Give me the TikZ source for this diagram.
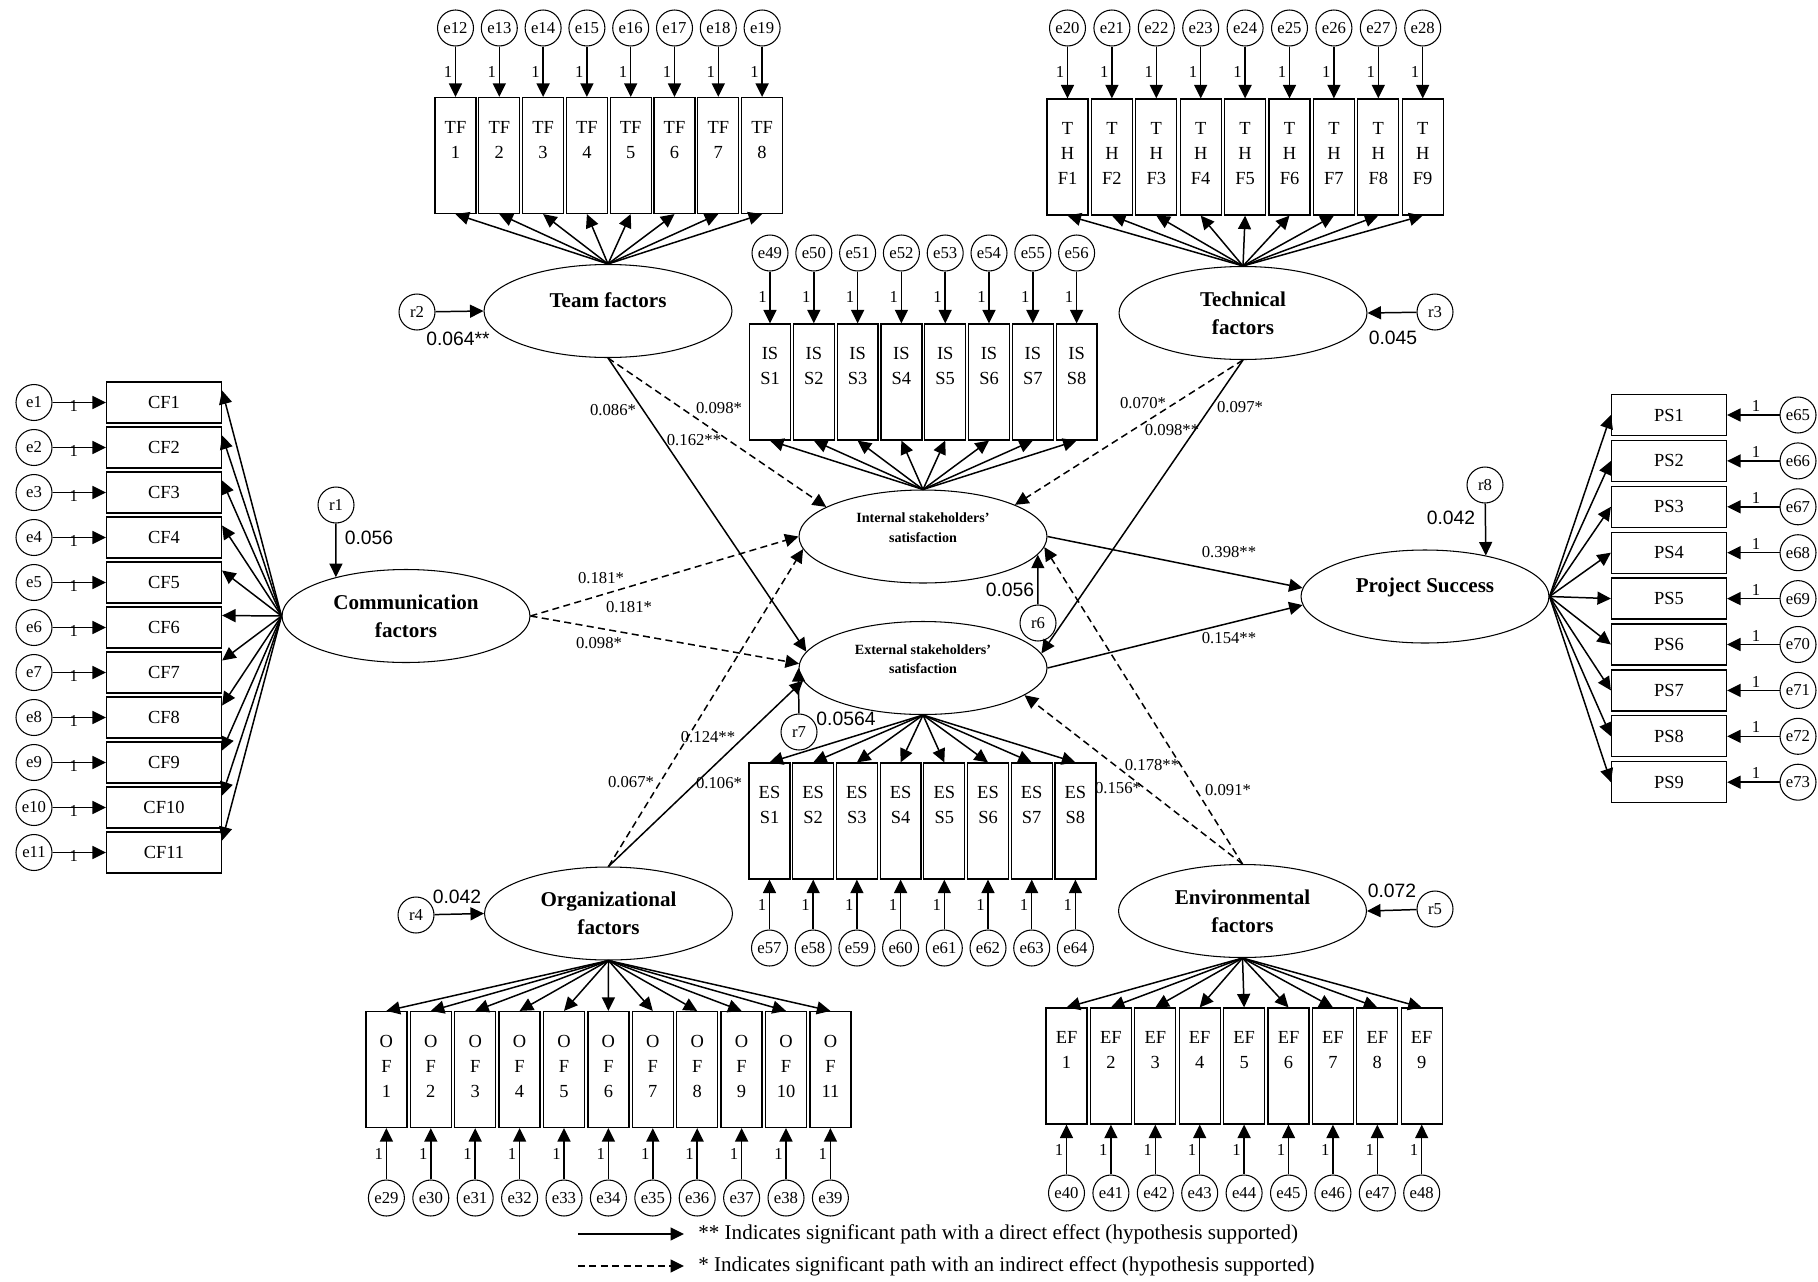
\documentclass[tikz,border=0pt]{standalone}
\usepackage{fontspec}
\setmainfont{Liberation Serif}
\newfontfamily\numfont{Liberation Sans}
\usetikzlibrary{arrows.meta,shapes.geometric}

\tikzset{
  arr/.style={-{Triangle[length=0.27cm,width=0.26cm]}},
  direct/.style={arr, line width=0.85pt},
  indirect/.style={direct, dash pattern=on 4pt off 2.5pt},
  latent/.style={draw, ellipse, line width=0.6pt, minimum width=4.96cm, minimum height=1.86cm,
    inner sep=0pt, align=center, font=\fontsize{12}{16}\selectfont\bfseries},
  vind/.style={draw, rectangle, line width=0.7pt, minimum width=0.82cm, minimum height=2.32cm, inner sep=0pt},
  hind/.style={draw, rectangle, line width=0.7pt, minimum width=2.3cm, minimum height=0.82cm,
    inner sep=0pt, font=\fontsize{10.5}{12}\selectfont},
  boxlab/.style={anchor=north, yshift=-0.48cm, align=center, inner sep=0pt, font=\fontsize{10.5}{14.2}\selectfont},
  err/.style={draw, circle, line width=0.6pt, minimum size=0.72cm, inner sep=0pt, font=\fontsize{9.5}{10}\selectfont},
  wt/.style={inner sep=1.5pt, font=\fontsize{9.5}{10}\selectfont},
  coef/.style={inner sep=0pt, font=\fontsize{9.5}{10}\selectfont},
  resid/.style={inner sep=0pt, font=\fontsize{11}{12}\numfont},
  legtxt/.style={inner sep=0pt, anchor=west, font=\fontsize{12}{14}\selectfont},
}

\begin{document}
\begin{tikzpicture}[x=0.02cm, y=-0.02cm]
\useasboundingbox (0,0) rectangle (1818,1281);

        %Latent variables
        \node[latent, text depth=0.45cm] (team) at (608,311) {Team factors};
        \node[latent] (tech) at (1243,313) {Technical\\factors};
        \node[latent] (comm) at (406,616) {Communication\\factors};
        \node[latent, font=\fontsize{8}{11}\selectfont\bfseries, text depth=0.36cm] (internal) at (923,536.5) {Internal stakeholders'\\satisfaction};
        \node[latent, font=\fontsize{8}{11}\selectfont\bfseries, text depth=0.36cm] (external) at (923,668) {External stakeholders'\\satisfaction};
        \node[latent, text depth=0.45cm] (ps) at (1425,596.5) {Project Success};
        \node[latent] (org) at (608.5,913.5) {Organizational\\factors};
        \node[latent] (env) at (1242.5,911) {Environmental\\factors};

        %Team factors items
        \foreach \i in {1,...,8} {
          \pgfmathtruncatemacro{\en}{\i+11}
          \node[vind, label={[boxlab]north:{TF\\\i}}] (tf\i) at ({455.5+43.8*(\i-1)},155.5) {};
          \node[err] (etf\i) at ({455.5+43.8*(\i-1)},28) {e\en};
          \draw[direct] (etf\i) -- node[wt, left] {1} (tf\i);
          \draw[direct] (team.north) -- (tf\i.south);
        }

        %Technical factors items
        \foreach \i in {1,...,9} {
          \pgfmathtruncatemacro{\en}{\i+19}
          \node[vind, label={[boxlab]north:{T\\H\\F\i}}] (thf\i) at ({1067.5+44.4*(\i-1)},157) {};
          \node[err] (ethf\i) at ({1067.5+44.4*(\i-1)},28) {e\en};
          \draw[direct] (ethf\i) -- node[wt, left] {1} (thf\i);
          \draw[direct] (tech.north) -- (thf\i.south);
        }

        %Internal stakeholders satisfaction items
        \foreach \i in {1,...,8} {
          \pgfmathtruncatemacro{\en}{\i+48}
          \node[vind, label={[boxlab]north:{IS\\S\i}}] (iss\i) at ({770+43.8*(\i-1)},382) {};
          \node[err] (eiss\i) at ({770+43.8*(\i-1)},253) {e\en};
          \draw[direct] (eiss\i) -- node[wt, left] {1} (iss\i);
          \draw[direct] (internal.north) -- (iss\i.south);
        }

        %External stakeholders satisfaction items
        \foreach \i in {1,...,8} {
          \pgfmathtruncatemacro{\en}{\i+56}
          \node[vind, label={[boxlab]north:{ES\\S\i}}] (ess\i) at ({769.5+43.7*(\i-1)},821) {};
          \node[err] (eess\i) at ({769.5+43.7*(\i-1)},948) {e\en};
          \draw[direct] (eess\i) -- node[wt, left] {1} (ess\i);
          \draw[direct] (external.south) -- (ess\i.north);
        }

        %Organizational factors items
        \foreach \i in {1,...,11} {
          \pgfmathtruncatemacro{\en}{\i+28}
          \node[vind, label={[boxlab]north:{O\\F\\\i}}] (of\i) at ({386.4+44.4*(\i-1)},1069.5) {};
          \node[err] (eof\i) at ({386.4+44.4*(\i-1)},1198) {e\en};
          \draw[direct] (eof\i) -- node[wt, left] {1} (of\i);
          \draw[direct] (org.south) -- (of\i.north);
        }

        %Environmental factors items
        \foreach \i in {1,...,9} {
          \pgfmathtruncatemacro{\en}{\i+39}
          \node[vind, label={[boxlab]north:{EF\\\i}}] (ef\i) at ({1066.5+44.4*(\i-1)},1066) {};
          \node[err] (eef\i) at ({1066.5+44.4*(\i-1)},1193) {e\en};
          \draw[direct] (eef\i) -- node[wt, left] {1} (ef\i);
          \draw[direct] (env.south) -- (ef\i.north);
        }

        %Communication factors items
        \foreach \i in {1,...,11} {
          \node[hind] (cf\i) at (164,{402.5+45*(\i-1)}) {CF\i};
          \node[err] (ecf\i) at (34,{402.5+45*(\i-1)}) {e\i};
          \draw[direct] (ecf\i) -- node[wt, pos=0.4, yshift=-2pt] {1} (cf\i);
          \draw[direct] (comm.west) -- ([yshift=0.24cm]cf\i.east);
        }

        %Project success items
        \foreach \i in {1,...,9} {
          \pgfmathtruncatemacro{\en}{\i+64}
          \node[hind] (psi\i) at (1669,{415+45.9*(\i-1)}) {PS\i};
          \node[err] (epsi\i) at (1798,{415+45.9*(\i-1)}) {e\en};
          \draw[direct] (epsi\i) -- node[wt, pos=0.45, above] {1} (psi\i);
          \draw[direct] (ps.east) -- (psi\i.west);
        }

        %Residuals
        \node[err] (r1) at (336,505) {r1};
        \node[err] (r2) at (417,312) {r2};
        \node[err] (r3) at (1435,312) {r3};
        \node[err] (r4) at (416,915) {r4};
        \node[err] (r5) at (1435,909) {r5};
        \node[err] (r6) at (1038,623) {r6};
        \node[err] (r7) at (799,732) {r7};
        \node[err] (r8) at (1485,485) {r8};
        \draw[direct] (r1) -- (comm.151);
        \draw[direct] (r2) -- (team.west);
        \draw[direct] (r3) -- (tech.east);
        \draw[direct] (r4) -- (org.west);
        \draw[direct] (r5) -- (env.east);
        \draw[direct] (r6) -- (internal.351);
        \draw[direct] (r7) -- (external.west);
        \draw[direct] (r8) -- (ps.34);
        \node[resid] at (369,538) {0.056};
        \node[resid] at (458,339) {0.064**};
        \node[resid] at (1393,338) {0.045};
        \node[resid] at (1010,590) {0.056};
        \node[resid] at (846,719) {0.0564};
        \node[resid] at (457,897) {0.042};
        \node[resid] at (1392,891) {0.072};
        \node[resid] at (1451,518) {0.042};

        %Structural paths
        \draw[indirect] (team.south) -- (internal.163);
        \draw[direct] (team.south) -- (external.172);
        \draw[indirect] (comm.east) -- (internal.180);
        \draw[indirect] (comm.east) -- (external.178);
        \draw[indirect] (org.north) -- (internal.186);
        \draw[direct] (org.north) -- (external.186);
        \draw[indirect] (tech.south) -- (internal.19);
        \draw[direct] (tech.south) -- (external.7);
        \draw[indirect] (env.north) -- (internal.355);
        \draw[indirect] (env.north) -- (external.345);
        \draw[direct] (internal.east) -- (ps.176);
        \draw[direct] (external.east) -- (ps.184);

        %Path coefficients
        \node[coef] at (613,410) {0.086*};
        \node[coef] at (719,408) {0.098*};
        \node[coef] at (694,440) {0.162**};
        \node[coef] at (601,578) {0.181*};
        \node[coef] at (629,607) {0.181*};
        \node[coef] at (599,643) {0.098*};
        \node[coef] at (708,737) {0.124**};
        \node[coef] at (631,782) {0.067*};
        \node[coef] at (719,783) {0.106*};
        \node[coef] at (1143,403) {0.070*};
        \node[coef] at (1172,430) {0.098**};
        \node[coef] at (1240,407) {0.097*};
        \node[coef] at (1229,552) {0.398**};
        \node[coef] at (1229,638) {0.154**};
        \node[coef] at (1152,765) {0.178**};
        \node[coef] at (1118,788) {0.156*};
        \node[coef] at (1228,790) {0.091*};

        %Legend
        \coordinate (ls1) at (578,1234); \coordinate (le1) at (684,1234);
        \coordinate (ls2) at (578,1266); \coordinate (le2) at (684,1266);
        \draw[direct] (ls1) -- (le1);
        \draw[indirect] (ls2) -- (le2);
        \node[legtxt] (leg1) at (698,1234) {** Indicates significant path with a direct effect (hypothesis supported)};
        \node[legtxt] (leg2) at (698,1266) {* Indicates significant path with an indirect effect (hypothesis supported)};

\end{tikzpicture}
\end{document}
